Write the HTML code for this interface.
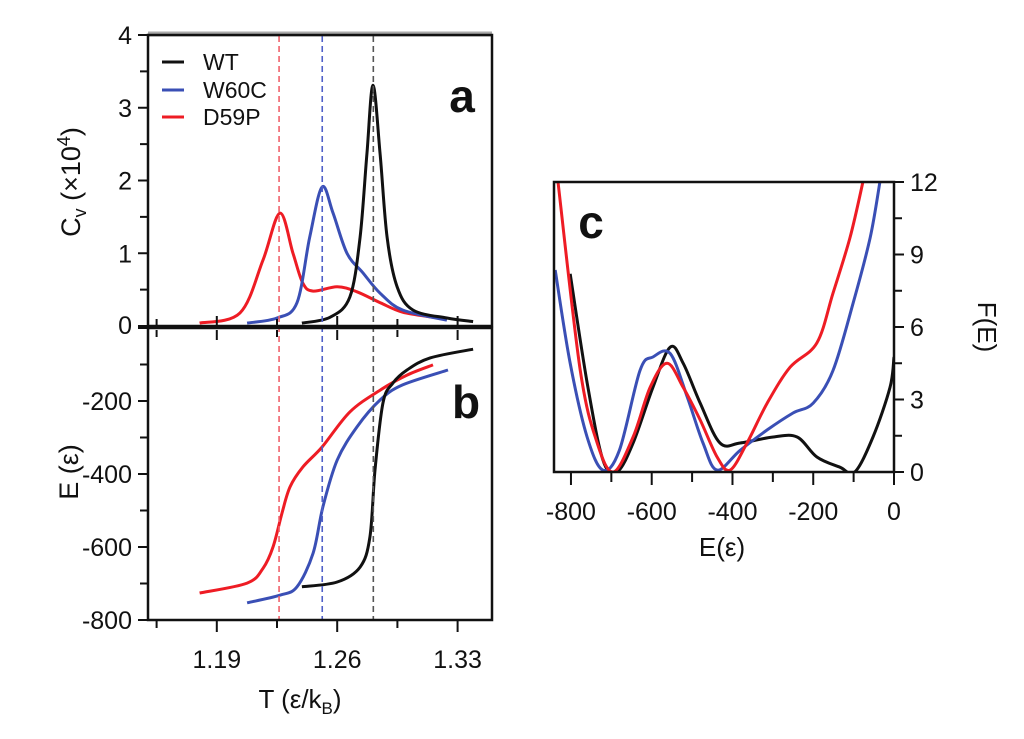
<!DOCTYPE html>
<html><head><meta charset="utf-8"><style>
html,body{margin:0;padding:0;background:#fff;}
svg{display:block;font-family:"Liberation Sans",sans-serif;}
</style></head><body>
<svg id="chart" width="1024" height="739" viewBox="0 0 1024 739"></svg>
<script>
// ---------- Panel a data (T, Cv x1e4) ----------
const aRedT=[1.180,1.2035,1.2169,1.2267,1.2343,1.240,1.246,1.260,1.2715,1.285,1.298,1.3157];
const aRedCv=[0.04,0.18,0.91,1.55,1.0,0.59,0.48,0.54,0.47,0.32,0.19,0.12];
const aBlueT=[1.2076,1.225,1.2366,1.244,1.2512,1.2576,1.2657,1.275,1.285,1.298,1.3238];
const aBlueCv=[0.04,0.11,0.32,1.22,1.91,1.55,1.0,0.73,0.45,0.22,0.08];
const aBlackT=[1.2395,1.2558,1.2674,1.2733,1.2773,1.2808,1.2849,1.289,1.2948,1.304,1.3238,1.339];
const aBlackCv=[0.04,0.12,0.4,1.22,2.38,3.31,2.38,1.22,0.54,0.22,0.11,0.06];
const tcValues=[1.2262,1.2513,1.281];
// ---------- Panel b data (T, E) ----------
const bRedT=[1.180,1.2076,1.2169,1.2227,1.2279,1.2326,1.240,1.2512,1.2674,1.285,1.3006,1.3157];
const bRedE=[-726,-699,-658,-600,-507,-435,-381,-326,-230,-170,-129,-101];
const bBlueT=[1.2076,1.2267,1.2366,1.246,1.2517,1.26,1.2715,1.285,1.298,1.3244];
const bBlueE=[-753,-732,-709,-617,-490,-362,-271,-197,-156,-115];
const bBlackT=[1.2395,1.26,1.2733,1.279,1.282,1.2866,1.2924,1.3006,1.314,1.339];
const bBlackE=[-709,-696,-655,-573,-389,-205,-151,-115,-82,-58];
// ---------- Panel c data (E, F) ----------
const cRedE=[-832,-777,-735,-695,-646,-604,-562,-522,-480,-438,-406,-364,-314,-257,-191,-151,-109,-77];
const cRedF=[12,4.22,1.2,0,1.45,3.5,4.5,3.5,2.15,0.62,0.08,1.2,2.85,4.34,5.34,7.4,9.7,12];
const cBlueE=[-839,-802,-760,-721,-680,-629,-597,-554,-512,-473,-438,-381,-314,-250,-200,-151,-101,-59,-35];
const cBlueF=[8.36,4.5,1.45,0.08,0.9,4.2,4.76,4.9,3.1,1.2,0.08,0.9,1.74,2.44,2.85,4.2,7.0,9.7,12];
const cBlackE=[-802,-760,-721,-686,-646,-597,-554,-522,-480,-431,-381,-299,-240,-191,-134,-97,-52,-10,0];
const cBlackF=[8.2,3.7,0.5,0,1.2,3.5,5.17,4.5,2.85,1.2,1.2,1.45,1.45,0.62,0.2,0,1.45,3.5,4.76];
const aYTicks=[0,1,2,3,4];
const bYTicks=[-200,-400,-600,-800];
const xTickLabels=[1.19,1.26,1.33];
const cXTicks=[-800,-600,-400,-200,0];
const cYTicks=[0,3,6,9,12];

const svg=document.getElementById('chart');
const NS='http://www.w3.org/2000/svg';
function el(tag,attrs,parent){const e=document.createElementNS(NS,tag);for(const k in attrs)e.setAttribute(k,attrs[k]);(parent||svg).appendChild(e);return e;}
function lin(d0,d1,r0,r1){return v=>r0+(v-d0)/(d1-d0)*(r1-r0);}
function smooth(pts){let d='M'+pts[0][0].toFixed(1)+','+pts[0][1].toFixed(1);
 for(let i=0;i<pts.length-1;i++){const p0=pts[Math.max(0,i-1)],p1=pts[i],p2=pts[i+1],p3=pts[Math.min(pts.length-1,i+2)];
 const c1=[p1[0]+(p2[0]-p0[0])/6,p1[1]+(p2[1]-p0[1])/6],c2=[p2[0]-(p3[0]-p1[0])/6,p2[1]-(p3[1]-p1[1])/6];
 d+='C'+c1.map(v=>v.toFixed(1))+' '+c2.map(v=>v.toFixed(1))+' '+p2.map(v=>v.toFixed(1));}return d;}
function text(x,y,s,size,anchor,name,extra){const t=el('text',Object.assign({x:x,y:y,'font-size':size,'text-anchor':anchor||'middle',fill:'#111'},extra||{}));t.textContent=s;
 
 return t;}
const RED='#ee1c24',BLUE='#3a4fb5',BLACK='#111';

const xT=lin(1.15,1.35,148,492);
const yA=lin(0,4,326,35);
const yB=lin(0,-800,328,620);

// panel a
const ga=el('g',{});
el('line',{x1:148,y1:34,x2:492,y2:34,stroke:'#aaa','stroke-width':5},ga);
[[aRedT,aRedCv,RED,'cv-d59p'],[aBlueT,aBlueCv,BLUE,'cv-w60c'],[aBlackT,aBlackCv,BLACK,'cv-wt']].forEach(s=>{const p=el('path',{d:smooth(s[0].map((t,i)=>[xT(t),yA(s[1][i])])),fill:'none',stroke:s[2],'stroke-width':3,'stroke-linejoin':'round'},ga);
 });
// panel b
const gb=el('g',{});
[[bRedT,bRedE,RED,'e-d59p'],[bBlueT,bBlueE,BLUE,'e-w60c'],[bBlackT,bBlackE,BLACK,'e-wt']].forEach(s=>{const p=el('path',{d:smooth(s[0].map((t,i)=>[xT(t),yB(s[1][i])])),fill:'none',stroke:s[2],'stroke-width':3,'stroke-linejoin':'round'},gb);
 });
const dcol=['#f0606a','#5060c8','#555'];
tcValues.forEach((t,i)=>{const l=el('line',{x1:xT(t),y1:36,x2:xT(t),y2:620,stroke:dcol[i],'stroke-width':1.6,'stroke-dasharray':'6,4'});
 });
el('rect',{x:148,y:35,width:344,height:291,fill:'none',stroke:'#111','stroke-width':2.5});
el('rect',{x:148,y:328,width:344,height:292,fill:'none',stroke:'#111','stroke-width':2.5});
for(let v=0;v<=4;v+=0.5){const y=yA(v);el('line',{x1:148,y1:y,x2:v%1?140:138,y2:y,stroke:'#111','stroke-width':2});}
aYTicks.forEach(v=>text(132,yA(v)+(v===0?8:9),String(v),25,'end','y-tick-a'));
for(let v=0;v>=-800;v-=100){const y=yB(v);el('line',{x1:148,y1:y,x2:v%200?140:138,y2:y,stroke:'#111','stroke-width':2});}
bYTicks.forEach(v=>text(132,yB(v)+9,String(v),25,'end','y-tick-b'));
for(let k=0;k<6;k++){const x=xT(1.155+0.035*k);
 el('line',{x1:x,y1:326,x2:x,y2:k%2?316:319,stroke:'#111','stroke-width':2});
 el('line',{x1:x,y1:330,x2:x,y2:k%2?340:337,stroke:'#111','stroke-width':2});
 el('line',{x1:x,y1:620,x2:x,y2:k%2?632:628,stroke:'#111','stroke-width':2});}
xTickLabels.forEach(v=>text(xT(v),668,v.toFixed(2),25,'middle','x-tick-t'));
const tl=text(300,708,'T (ε/k',26,'middle','x-axis-title-t');
const tsub=el('tspan',{'font-size':17,dy:6},tl);tsub.textContent='B';const tp=el('tspan',{dy:-6},tl);tp.textContent=')';
const cvt=text(0,0,'C',27,'middle','y-axis-title-cv',{transform:'translate(80,182) rotate(-90)'});
const cs=el('tspan',{'font-size':18,dy:6},cvt);cs.textContent='v';const c2=el('tspan',{dy:-6},cvt);c2.textContent=' (×10';
const c3=el('tspan',{'font-size':18,dy:-10},cvt);c3.textContent='4';const c4=el('tspan',{dy:10},cvt);c4.textContent=')';
text(0,0,'E (ε)',27,'middle','y-axis-title-e',{transform:'translate(78,472) rotate(-90)'});
[['WT',BLACK,62],['W60C',BLUE,90],['D59P',RED,117]].forEach(l=>{const li=el('line',{x1:162,y1:l[2],x2:184,y2:l[2],stroke:l[1],'stroke-width':3});
 
 text(203,l[2]+8,l[0],23,'start','legend-entry');});
text(462,112,'a',46,'middle','panel-label-a',{'font-weight':'bold'});
text(466,418,'b',46,'middle','panel-label-b',{'font-weight':'bold'});

// panel c
const xC=lin(-842,0,554,894), yC=lin(0,12,472,182);
const gc=el('g',{});
const cp=el('clipPath',{id:'cc'});el('rect',{x:554,y:182,width:340,height:290},cp);
[[cBlackE,cBlackF,BLACK,'f-wt'],[cBlueE,cBlueF,BLUE,'f-w60c'],[cRedE,cRedF,RED,'f-d59p']].forEach(s=>{const p=el('path',{d:smooth(s[0].map((e,i)=>[xC(e),yC(s[1][i])])),fill:'none',stroke:s[2],'stroke-width':3,'clip-path':'url(#cc)','stroke-linejoin':'round'},gc);
 });
el('rect',{x:554,y:182,width:340,height:290,fill:'none',stroke:'#111','stroke-width':2.5});
for(let v=-800;v<=0;v+=100){const x=xC(v);el('line',{x1:x,y1:472,x2:x,y2:v%200?482:485,stroke:'#111','stroke-width':2});}
cXTicks.forEach(v=>text(xC(v),520,String(v),25,'middle','x-tick-c'));
for(let v=0;v<=12;v+=1.5){const y=yC(v);el('line',{x1:894,y1:y,x2:v%3?902:904,y2:y,stroke:'#111','stroke-width':2});}
cYTicks.forEach(v=>text(910,yC(v)+9,String(v),25,'start','y-tick-c'));
text(722,556,'E(ε)',26,'middle','x-axis-title-c');
text(0,0,'F(E)',26,'middle','y-axis-title-f',{transform:'translate(978,327) rotate(90)'});
text(591,238,'c',46,'middle','panel-label-c',{'font-weight':'bold'});
</script>
</body></html>
